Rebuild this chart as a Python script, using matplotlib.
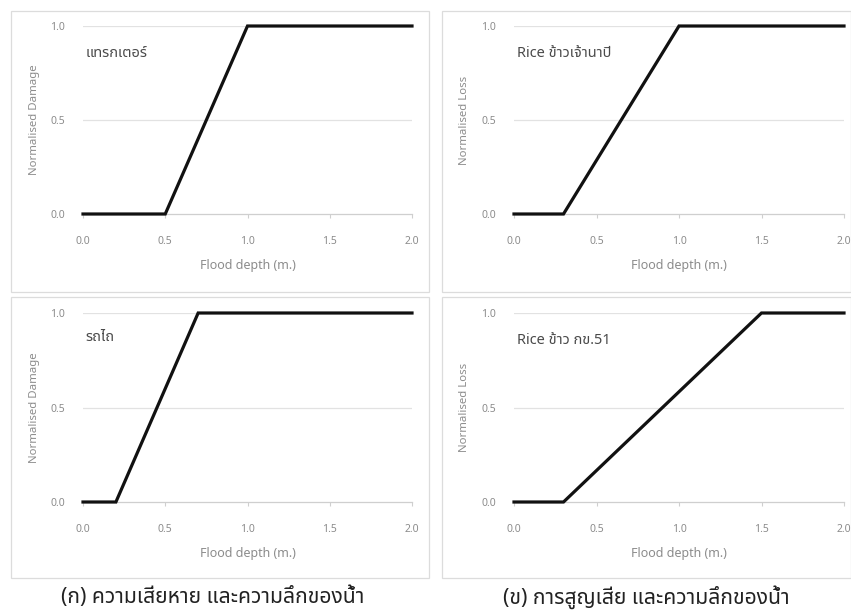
import matplotlib
matplotlib.use("Agg")
import matplotlib.pyplot as plt
from matplotlib import font_manager
from matplotlib.patches import Rectangle

# ---- data: depth-damage / depth-loss curves ----
depth_tractor = [0.0, 0.5, 1.0, 2.0]
damage_tractor = [0.0, 0.0, 1.0, 1.0]

depth_rice_napi = [0.0, 0.3, 1.0, 2.0]
loss_rice_napi = [0.0, 0.0, 1.0, 1.0]

depth_plough = [0.0, 0.2, 0.7, 2.0]
damage_plough = [0.0, 0.0, 1.0, 1.0]

depth_rice_rd51 = [0.0, 0.3, 1.5, 2.0]
loss_rice_rd51 = [0.0, 0.0, 1.0, 1.0]

x_ticks = [0.0, 0.5, 1.0, 1.5, 2.0]
y_ticks = [0.0, 0.5, 1.0]

panel_names = ["แทรกเตอร์", "Rice ข้าวเจ้านาปี", "รถไถ", "Rice ข้าว กข.51"]
y_labels = ["Normalised Damage", "Normalised Loss", "Normalised Damage", "Normalised Loss"]
x_label = "Flood depth (m.)"
captions = ["(ก) ความเสียหาย และความลึกของน้ำ", "(ข) การสูญเสีย และความลึกของน้ำ"]


def thai_font():
    """Return the name of an installed family that covers Thai script."""
    try:
        from fontTools.ttLib import TTFont
    except Exception:
        return None
    preferred = ["Noto Sans Thai", "Noto Sans Thai UI", "Sarabun", "Loma", "Garuda",
                 "Waree", "Umpush", "Tlwg Typo", "Kinnari", "Norasi", "Laksaman"]
    found = []
    for f in font_manager.fontManager.ttflist:
        try:
            tt = TTFont(f.fname, fontNumber=0, lazy=True)
            cmap = tt.getBestCmap() or {}
            if 0x0E01 in cmap and 0x0E49 in cmap:
                found.append(f.name)
        except Exception:
            continue
    for p in preferred:
        if p in found:
            return p
    return found[0] if found else None


tf = thai_font()
families = ([tf] if tf else []) + ["DejaVu Sans"]
plt.rcParams["font.family"] = families

W, H = 851, 610
fig = plt.figure(figsize=(W / 100, H / 100), dpi=100)
fig.patch.set_facecolor("white")


def px_rect(x0, y0, x1, y1):
    """Figure-fraction rect [left, bottom, width, height] from pixel corners."""
    return [x0 / W, 1 - y1 / H, (x1 - x0) / W, (y1 - y0) / H]


# panel frames
for (x0, y0, x1, y1) in [(11, 11, 429, 292), (442, 11, 851, 292),
                         (11, 297, 429, 578), (442, 297, 851, 578)]:
    r = px_rect(x0, y0, x1, y1)
    fig.patches.append(Rectangle((r[0], r[1]), r[2], r[3], transform=fig.transFigure,
                                 facecolor="none", edgecolor="#dcdcdc", linewidth=0.9))

axes_px = [(83, 26, 412, 214), (514, 26, 844, 214),
           (83, 313, 412, 502), (514, 313, 844, 502)]
series = [(depth_tractor, damage_tractor), (depth_rice_napi, loss_rice_napi),
          (depth_plough, damage_plough), (depth_rice_rd51, loss_rice_rd51)]
name_y = [0.856, 0.856, 0.868, 0.857]

grey = "#8c8c8c"
for i, (box, (xs, ys)) in enumerate(zip(axes_px, series)):
    ax = fig.add_axes(px_rect(*box))
    ax.set_xlim(0, 2.0)
    ax.set_ylim(0, 1.0)
    for s in ["top", "right", "left"]:
        ax.spines[s].set_visible(False)
    ax.spines["bottom"].set_color("#cfcfcf")
    ax.spines["bottom"].set_linewidth(0.9)
    ax.set_xticks(x_ticks)
    ax.set_yticks(y_ticks)
    ax.set_xticklabels([f"{v:.1f}" for v in x_ticks])
    ax.set_yticklabels([f"{v:.1f}" for v in y_ticks])
    ax.tick_params(axis="x", length=3, width=0.8, color="#cfcfcf", direction="out",
                   pad=13, labelsize=7.5, labelcolor=grey)
    ax.tick_params(axis="y", length=0, pad=13, labelsize=7.5, labelcolor=grey)
    for yv in y_ticks[1:]:
        ax.axhline(yv, color="#e2e2e2", linewidth=0.9, zorder=1)
    ax.plot(xs, ys, color="#111111", linewidth=2.3, solid_joinstyle="miter",
            clip_on=False, zorder=3)
    ax.set_xlabel(x_label, fontsize=9, color=grey)
    ax.xaxis.set_label_coords(0.5, -0.24)
    ax.set_ylabel(y_labels[i], fontsize=8.2, color=grey)
    ax.yaxis.set_label_coords(-0.132, 0.5)
    ax.text(0.008, name_y[i], panel_names[i], transform=ax.transAxes,
            fontsize=10.5, color="#4a4a4a", ha="left", va="center")

fig.text(213 / W, 1 - 597 / H, captions[0], fontsize=15.2, color="#222222",
         ha="center", va="center")
fig.text(646 / W, 1 - 597 / H, captions[1], fontsize=15.2, color="#222222",
         ha="center", va="center")

fig.savefig("out.png", dpi=100, facecolor="white")
